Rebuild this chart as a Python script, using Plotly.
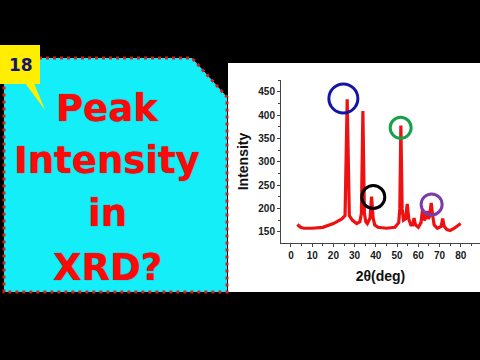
import plotly.graph_objects as go

# XRD pattern
two_theta = [3, 4.5, 6, 10, 15, 20, 24, 25.5, 26.5, 27.5, 29, 31, 32.5, 33.2, 33.9, 34.6,
             35.3, 36, 37.3, 38, 38.7, 39.5, 41, 45, 49, 50.8, 51.3, 51.8, 52.4, 53, 54,
             54.8, 55.5, 56.5, 57.3, 58, 58.7, 60, 61.3, 62, 62.8, 63.5, 64.2, 64.8, 65.4,
             66.1, 66.8, 67.5, 69, 70.8, 71.5, 72.2, 73.5, 75, 77, 79, 80]
intensity = [166, 160, 158, 158, 160, 168, 178, 185, 434, 185, 175, 168, 172, 190, 409, 190,
             172, 168, 180, 226, 180, 165, 160, 158, 160, 170, 200, 378, 200, 175, 178,
             210, 178, 165, 165, 180, 165, 160, 170, 198, 175, 180, 195, 178, 185,
             212, 185, 165, 158, 162, 179, 162, 155, 153, 158, 165, 168]

# highlight circles (centre in data units, size in px)
circ_x = [24.7, 38.8, 51.7, 66.3]
circ_y = [436, 225, 373, 209]
circ_size = [29, 23, 21, 21]
circ_color = ["#1414A8", "#000000", "#16A04A", "#7B3BAA"]

x_ticks = [0, 10, 20, 30, 40, 50, 60, 70, 80]
y_ticks = [150, 200, 250, 300, 350, 400, 450]

title_lines = ["Peak", "Intensity", "in", "XRD?"]
title_y_px = [108, 160, 213, 267]
badge_text = "18"

W, H = 480, 360
def px(x):
    return x / W
def py(y):
    return 1 - y / H

fig = go.Figure()
fig.add_trace(go.Scatter(x=two_theta, y=intensity, mode="lines",
                         line=dict(color="#EE1111", width=3.2), hoverinfo="skip",
                         showlegend=False))
fig.add_trace(go.Scatter(x=circ_x, y=circ_y, mode="markers",
                         marker=dict(symbol="circle-open", size=circ_size,
                                     color=circ_color, opacity=1,
                                     line=dict(color=circ_color, width=3)),
                         hoverinfo="skip", showlegend=False, cliponaxis=False))

shapes = []
# white chart panel
shapes.append(dict(type="rect", xref="paper", yref="paper", layer="below",
                   x0=px(228), x1=px(480), y0=py(292), y1=py(63),
                   fillcolor="white", line=dict(width=0)))
# cyan panel with cut corner and dotted red border
path = "M {},{} L {},{} L {},{} L {},{} L {},{} Z".format(
    px(4), py(58), px(192), py(58), px(227), py(97), px(227), py(292), px(4), py(292))
shapes.append(dict(type="path", xref="paper", yref="paper", layer="below", path=path,
                   fillcolor="#14EEF8",
                   line=dict(color="#D42020", width=3, dash="3px,4px")))
# yellow badge
shapes.append(dict(type="rect", xref="paper", yref="paper", layer="below",
                   x0=px(0), x1=px(40), y0=py(84), y1=py(45),
                   fillcolor="#FFEE00", line=dict(width=0)))
tail = "M {},{} L {},{} L {},{} Z".format(px(25), py(83), px(45), py(110), px(34), py(83))
shapes.append(dict(type="path", xref="paper", yref="paper", layer="below", path=tail,
                   fillcolor="#FFEE00", line=dict(width=0)))

annotations = []
for t, yy in zip(title_lines, title_y_px):
    annotations.append(dict(text=t, xref="paper", yref="paper", x=px(107), y=py(yy),
                            xanchor="center", yanchor="middle", showarrow=False,
                            font=dict(family="DejaVu Sans", size=37, color="#FF0808",
                                      weight="bold",
                                      shadow="0px 0px 1px rgba(80,0,0,0.7)")))
annotations.append(dict(text=badge_text, xref="paper", yref="paper", x=px(20.5), y=py(65),
                        xanchor="center", yanchor="middle", showarrow=False,
                        font=dict(family="DejaVu Sans", size=17, color="#14146E",
                                  weight="bold")))

axis_font = dict(family="Liberation Sans, Arial", size=10, color="#1A1A1A", weight="bold")
title_font = dict(family="Liberation Sans, Arial", size=14, color="#111111", weight="bold")

fig.update_layout(
    width=W, height=H,
    margin=dict(l=0, r=0, t=0, b=0, pad=0),
    paper_bgcolor="black", plot_bgcolor="white",
    shapes=shapes, annotations=annotations,
    xaxis=dict(domain=[px(281), 1], range=[-4.7, 89.1], tickvals=x_ticks,
               ticks="outside", ticklen=3, automargin=False,
               tickcolor="#444", showline=True, linecolor="#444", linewidth=1,
               showgrid=False, zeroline=False, tickfont=axis_font,
               minor=dict(dtick=5, ticks="outside", ticklen=2, tickcolor="#444"),
               title=dict(text="2θ(deg)", font=title_font, standoff=11)),
    yaxis=dict(domain=[py(243), py(80)], range=[126.4, 475.5], tickvals=y_ticks,
               ticks="outside", ticklen=3, automargin=False,
               tickcolor="#444", showline=True, linecolor="#444", linewidth=1,
               showgrid=False, zeroline=False, tickfont=axis_font,
               minor=dict(dtick=25, ticks="outside", ticklen=2, tickcolor="#444"),
               title=dict(text="Intensity", font=title_font, standoff=6)),
)

fig.write_html("out.html")
